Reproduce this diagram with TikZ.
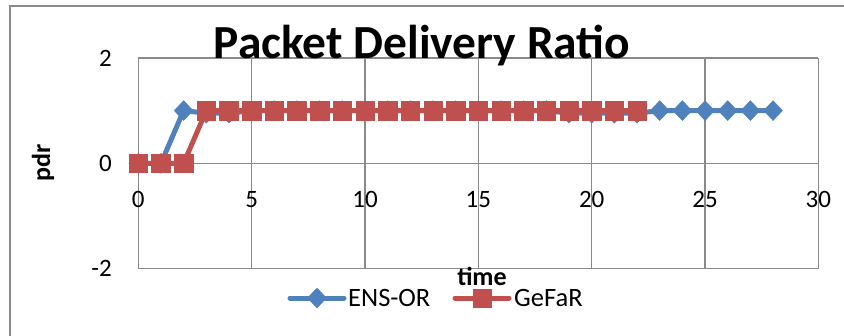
\documentclass[tikz,border=0pt]{standalone}
\usepackage{fontspec}
\setmainfont{Carlito}
\usetikzlibrary{shapes.geometric}
\definecolor{ensblue}{HTML}{4F81BD}
\definecolor{gefred}{HTML}{C0504D}
\definecolor{gridgray}{HTML}{8A8A8A}
\tikzset{
  gridline/.style={draw=gridgray, line width=1.4pt},
  frameline/.style={draw=gridgray, line width=1.4pt},
  bluedia/.style={diamond, fill=ensblue, draw=ensblue, line width=0.5pt, inner sep=0pt, minimum width=19pt, minimum height=20pt},
  redsq/.style={rectangle, fill=gefred, draw=gefred, line width=0.5pt, inner sep=0pt, minimum size=18.5pt},
  blueline/.style={draw=ensblue, line width=5pt, line join=round, line cap=round},
  redline/.style={draw=gefred, line width=5pt, line join=round, line cap=round},
  ticklab/.style={font=\fontsize{25}{30}\selectfont, inner sep=0pt},
  leglab/.style={font=\fontsize{26.5}{31}\selectfont, inner sep=0pt, anchor=west},
  axtitle/.style={font=\bfseries\fontsize{26}{31}\selectfont, inner sep=0pt}
}
\begin{document}
\begin{tikzpicture}[x=1pt, y=-1pt]
\useasboundingbox (0,0) rectangle (844,335);
\fill[white] (0,0) rectangle (844,335);
% outer chart frame
\draw[frameline] (10,340) -- (10,6) -- (850,6);
% plot area
\begin{scope}[shift={(138.3pt,-163.3pt)}, x=22.67pt, y=52.7pt]
  \foreach \gx in {5,10,...,30} { \draw[gridline] (\gx,2) -- (\gx,-2); }
  \draw[gridline] (0,2) -- (0,-2);
  \draw[gridline] (0,2) -- (30,2);
  \draw[gridline] (0,0) -- (30,0);
  \draw[gridline] (0,-2) -- (30,-2);
  % tick labels
  \foreach \yv/\yl in {2/2, 0/0, -2/-2} {
    \node[ticklab, anchor=east] (yt\yv) at (-1.16,\yv) {\yl};
  }
  \foreach \gx in {0,5,...,30} {
    \node[ticklab] (xt\gx) at (\gx,-0.68) {\gx};
  }
  % ENS-OR series
  \draw[blueline] plot coordinates {(0,0) (1,0) (2,1) (3,0.95) (4,0.95) (5,1) (6,1) (7,1) (8,1) (9,1) (10,1) (11,1) (12,1) (13,1) (14,1) (15,1) (16,1) (17,1) (18,1) (19,0.95) (20,0.95) (21,0.95) (22,0.95) (23,1) (24,1) (25,1) (26,1) (27,1) (28,1)};
  \foreach \px/\pv in {0/0, 1/0, 2/1, 3/0.95, 4/0.95, 5/1, 6/1, 7/1, 8/1, 9/1, 10/1, 11/1, 12/1, 13/1, 14/1, 15/1, 16/1, 17/1, 18/1, 19/0.95, 20/0.95, 21/0.95, 22/0.95, 23/1, 24/1, 25/1, 26/1, 27/1, 28/1} {
    \node[bluedia] (b\px) at (\px,\pv) {};
  }
  % GeFaR series
  \draw[redline] plot coordinates {(0,0) (1,0) (2,0) (3,1) (4,1) (5,1) (6,1) (7,1) (8,1) (9,1) (10,1) (11,1) (12,1) (13,1) (14,1) (15,1) (16,1) (17,1) (18,1) (19,1) (20,1) (21,1) (22,1)};
  \foreach \px/\pv in {0/0, 1/0, 2/0, 3/1, 4/1, 5/1, 6/1, 7/1, 8/1, 9/1, 10/1, 11/1, 12/1, 13/1, 14/1, 15/1, 16/1, 17/1, 18/1, 19/1, 20/1, 21/1, 22/1} {
    \node[redsq] (r\px) at (\px,\pv) {};
  }
\end{scope}
% title (drawn over the top gridline)
\node[font=\bfseries\fontsize{47.5}{54}\selectfont, inner sep=0pt, anchor=base] (title) at (422,58) {Packet Delivery Ratio};
% axis titles
\node[axtitle, rotate=90] (ylab) at (43,163) {pdr};
\node[axtitle] (xlab) at (482,276) {time};
% legend
\coordinate (lb1) at (290,298);
\coordinate (lb2) at (344,298);
\draw[blueline] (lb1) -- (lb2);
\node[bluedia] (lbm) at (317,298) {};
\node[leglab] (lbt) at (348,298) {ENS-OR};
\coordinate (lr1) at (455,298);
\coordinate (lr2) at (509,298);
\draw[redline] (lr1) -- (lr2);
\node[redsq] (lrm) at (482,298) {};
\node[leglab] (lrt) at (514,298) {GeFaR};
\end{tikzpicture}
\end{document}
